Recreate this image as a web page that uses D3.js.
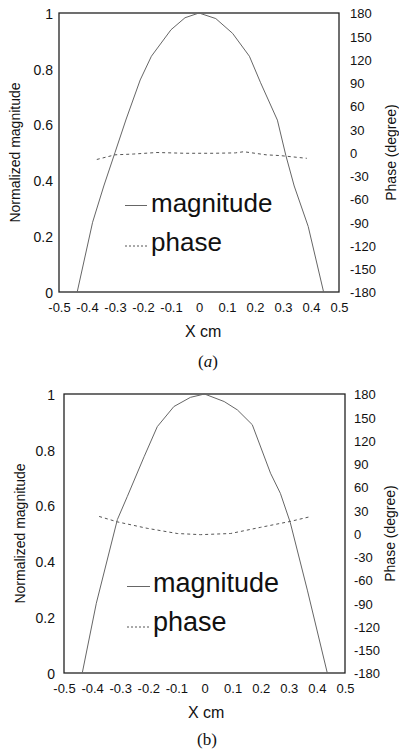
<!DOCTYPE html>
<html><head><meta charset="utf-8">
<script src="https://cdn.jsdelivr.net/npm/d3@7"></script>
<style>
html,body{margin:0;padding:0;background:#fff;}
svg{display:block;}
text{font-family:"Liberation Sans",Arial,Helvetica,sans-serif;fill:#111;}
</style></head>
<body>
<svg id="chart" width="399" height="750"></svg>
<script>
// ---- data ----
const xTicks = [-0.5,-0.4,-0.3,-0.2,-0.1,0,0.1,0.2,0.3,0.4,0.5];
const xTickLabels = ["-0.5","-0.4","-0.3","-0.2","-0.1","0","0.1","0.2","0.3","0.4","0.5"];
const magTicks = [0,0.2,0.4,0.6,0.8,1];
const magTickLabels = ["0","0.2","0.4","0.6","0.8","1"];
const phaseTicks = [-180,-150,-120,-90,-60,-30,0,30,60,90,120,150,180];
const phaseTickLabels = ["-180","-150","-120","-90","-60","-30","0","30","60","90","120","150","180"];

// panel (a)
const magXA = [-0.435,-0.38,-0.34,-0.30,-0.26,-0.21,-0.17,-0.10,-0.05,0,0.06,0.12,0.18,0.22,0.28,0.31,0.34,0.39,0.445];
const magYA = [0,0.25,0.38,0.50,0.62,0.76,0.845,0.94,0.983,1.0,0.98,0.927,0.845,0.75,0.616,0.49,0.38,0.235,0];
const phaseXA = [-0.365,-0.30,-0.235,-0.15,-0.05,0.05,0.13,0.16,0.24,0.29,0.385];
const phaseYA = [-9,-3,-2,0,-1,-1,-0.5,1,-3,-4,-7.5];

// panel (b)
const magXB = [-0.435,-0.385,-0.31,-0.275,-0.215,-0.168,-0.109,-0.05,0,0.07,0.117,0.17,0.235,0.27,0.305,0.366,0.437];
const magYB = [0,0.25,0.55,0.632,0.775,0.883,0.955,0.988,1.0,0.973,0.943,0.89,0.716,0.644,0.54,0.297,0];
const phaseXB = [-0.375,-0.31,-0.204,-0.097,-0.014,0.093,0.2,0.304,0.38];
const phaseYB = [22,15,6.7,0,-1.5,0,8,15.5,22];

const legendLabels = ["magnitude","phase"];
const axisTitles = {x:"X cm", left:"Normalized magnitude", right:"Phase (degree)"};

// ---- drawing ----
const svg = d3.select("#chart");

function panel(o){
  const g = svg.append("g");
  const x = d3.scaleLinear().domain([-0.5,0.5]).range([o.l,o.r]);
  const y = d3.scaleLinear().domain([0,1]).range([o.b,o.t]);
  const yp = d3.scaleLinear().domain([-180,180]).range([o.b,o.t]);

  const ax = g.append("g").attr("transform",`translate(0,${o.b})`)
    .call(d3.axisBottom(x).tickValues(xTicks).tickSize(0).tickPadding(10.5)
      .tickFormat((d,i)=>xTickLabels[i]));
  const al = g.append("g").attr("transform",`translate(${o.l},0)`)
    .call(d3.axisLeft(y).tickValues(magTicks).tickSize(0).tickPadding(o.lp)
      .tickFormat((d,i)=>magTickLabels[i]));
  const ar = g.append("g").attr("transform",`translate(${o.r},0)`)
    .call(d3.axisRight(yp).tickValues(phaseTicks).tickSize(0).tickPadding(o.rp)
      .tickFormat((d,i)=>phaseTickLabels[i]));
  [ax,al,ar].forEach(a=>{
    a.select(".domain").remove();
    a.selectAll("text").attr("font-size",13).attr("font-family","Liberation Sans, Arial, sans-serif").attr("fill","#111");
  });
  al.selectAll("text").attr("font-size",14).attr("dy","0.38em");
  ar.selectAll("text").attr("dy","0.38em");

  // frame
  g.append("rect").attr("x",o.l).attr("y",o.t).attr("width",o.r-o.l).attr("height",o.b-o.t)
    .attr("fill","none").attr("stroke","#222").attr("stroke-width",1.3);

  const magPts = o.mx.map((v,i)=>[v,o.my[i]]);
  const phPts = o.px.map((v,i)=>[v,o.py[i]]);
  g.append("path").attr("d",d3.line().x(d=>x(d[0])).y(d=>y(d[1]))(magPts))
    .attr("fill","none").attr("stroke","#666").attr("stroke-width",1);
  g.append("path").attr("d",d3.line().x(d=>x(d[0])).y(d=>yp(d[1]))(phPts))
    .attr("fill","none").attr("stroke","#555").attr("stroke-width",1).attr("stroke-dasharray","3,3");

  // legend
  const lg = o.leg;
  g.append("line").attr("x1",lg.x1).attr("x2",lg.x2).attr("y1",lg.y1).attr("y2",lg.y1)
    .attr("stroke","#666").attr("stroke-width",1);
  g.append("line").attr("x1",lg.x1).attr("x2",lg.x2).attr("y1",lg.y2).attr("y2",lg.y2)
    .attr("stroke","#555").attr("stroke-width",1).attr("stroke-dasharray","2,2");
  g.append("text").attr("x",lg.tx).attr("y",lg.b1).attr("font-size",lg.fs).text(legendLabels[0]);
  g.append("text").attr("x",lg.tx).attr("y",lg.b2).attr("font-size",lg.fs).text(legendLabels[1]);

  // titles
  g.append("text").attr("x",o.xtX).attr("y",o.xtY).attr("font-size",16).text(axisTitles.x);
  const cy = (o.t+o.b)/2;
  g.append("text").attr("transform",`translate(${o.ltX},${cy}) rotate(-90)`)
    .attr("text-anchor","middle").attr("font-size",14).text(axisTitles.left);
  g.append("text").attr("transform",`translate(${o.rtX},${cy}) rotate(-90)`)
    .attr("text-anchor","middle").attr("font-size",14).text(axisTitles.right);

  // caption
  const cap = g.append("text").attr("x",o.capX).attr("y",o.capY).attr("text-anchor","middle")
    .attr("font-size",17).style("font-family","'Liberation Serif','Times New Roman',serif");
  cap.append("tspan").text("(");
  cap.append("tspan").style("font-style",o.capItalic?"italic":"normal").text(o.cap);
  cap.append("tspan").text(")");
}

panel({l:59,r:339,t:13,b:292,lp:6,rp:11,mx:magXA,my:magYA,px:phaseXA,py:phaseYA,
  leg:{x1:125,x2:147,y1:205.5,y2:246,tx:151,b1:211.5,b2:250.5,fs:26},
  xtX:185,xtY:337,ltX:20,rtX:396,capX:208,capY:367,cap:"a",capItalic:true});
panel({l:64,r:345,t:394,b:673,lp:9,rp:9,mx:magXB,my:magYB,px:phaseXB,py:phaseYB,
  leg:{x1:127,x2:150,y1:586.5,y2:627,tx:153,b1:591.5,b2:630.5,fs:27},
  xtX:188,xtY:718,ltX:25,rtX:395,capX:207,capY:745,cap:"b",capItalic:false});
</script>
</body></html>
